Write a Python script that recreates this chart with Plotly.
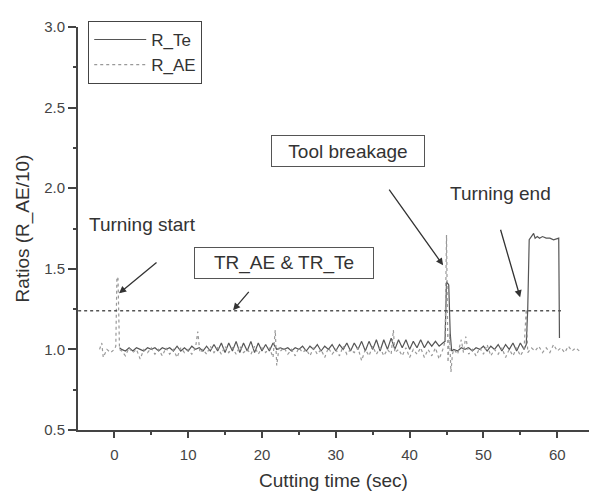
import plotly.graph_objects as go

# ---- data ----
te_t = [0.7, 1.0, 1.5, 2.0, 2.5, 3.0, 3.5, 4.0, 4.5, 5.0, 5.5, 6.0, 6.5, 7.0, 7.5, 8.0, 8.5, 9.0, 9.5,
        10.0, 10.5, 11.0, 11.5, 12.0, 12.5, 13.0, 13.5, 14.0, 14.5, 15.0, 15.5, 16.0, 16.5, 17.0, 17.5,
        18.0, 18.5, 19.0, 19.5, 20.0, 20.5, 21.0, 21.5, 22.0, 22.5, 23.0, 23.5, 24.0, 24.5, 25.0, 25.5,
        26.0, 26.5, 27.0, 27.5, 28.0, 28.5, 29.0, 29.5, 30.0, 30.5, 31.0, 31.5, 32.0, 32.5, 33.0, 33.5,
        34.0, 34.5, 35.0, 35.5, 36.0, 36.5, 37.0, 37.5, 38.0, 38.5, 39.0, 39.5, 40.0, 40.5, 41.0, 41.5,
        42.0, 42.5, 43.0, 43.5, 44.0, 44.5, 44.8, 45.0, 45.3, 45.5, 45.7, 46.0, 46.5, 47.0, 47.5, 48.0,
        48.5, 49.0, 49.5, 50.0, 50.5, 51.0, 51.5, 52.0, 52.5, 53.0, 53.5, 54.0, 54.5, 55.0, 55.5, 55.8,
        56.0, 56.2, 56.5, 56.8, 57.0, 57.3, 57.6, 58.0, 58.5, 59.0, 59.5, 60.0, 60.2, 60.3]
te_v = [1.01, 1.00, 0.99, 1.01, 0.99, 1.01, 1.00, 0.99, 1.01, 1.00, 1.01, 0.99, 1.01, 1.00, 1.01, 0.99, 1.02, 0.99, 1.01,
        0.99, 1.02, 1.00, 1.01, 0.99, 1.02, 0.99, 1.03, 0.99, 1.04, 0.98, 1.04, 0.99, 1.05, 0.98, 1.04,
        0.99, 1.05, 0.98, 1.04, 0.99, 1.03, 0.99, 1.04, 1.00, 1.01, 1.00, 1.01, 0.99, 1.01, 1.00, 1.02,
        0.99, 1.02, 1.00, 1.03, 0.99, 1.02, 1.00, 1.03, 0.99, 1.03, 1.00, 1.04, 0.99, 1.04, 1.00, 1.05,
        0.99, 1.05, 1.00, 1.06, 0.99, 1.06, 1.00, 1.07, 1.00, 1.06, 1.01, 1.06, 1.00, 1.05, 1.01, 1.06,
        1.01, 1.05, 1.02, 1.05, 1.02, 1.04, 1.05, 1.42, 1.40, 1.10, 0.99, 1.00, 0.99, 1.01, 1.00, 1.01,
        0.99, 1.01, 1.00, 1.02, 0.99, 1.02, 1.00, 1.03, 0.99, 1.03, 1.00, 1.04, 0.99, 1.04, 1.00, 1.03,
        1.25, 1.68, 1.70, 1.72, 1.69, 1.70, 1.69, 1.70, 1.69, 1.69, 1.68, 1.69, 1.69, 1.07]

ae_t = [-2.0, -1.7, -1.5, -1.0, -0.5, 0.0, 0.2, 0.35, 0.5, 0.7, 1.0, 1.5, 2.0, 2.5, 3.0, 3.5, 4.0, 4.5,
        5.0, 5.5, 6.0, 6.5, 7.0, 7.5, 8.0, 8.5, 9.0, 9.5, 10.0, 10.5, 11.0, 11.3, 11.6, 12.0, 12.5, 13.0,
        13.5, 14.0, 14.5, 15.0, 15.5, 16.0, 16.5, 17.0, 17.5, 18.0, 18.5, 19.0, 19.5, 20.0, 20.5, 21.0,
        21.5, 21.8, 22.0, 22.3, 22.5, 23.0, 23.5, 24.0, 24.5, 25.0, 25.5, 26.0, 26.5, 27.0, 27.5, 28.0,
        28.5, 29.0, 29.5, 30.0, 30.5, 31.0, 31.5, 32.0, 32.5, 33.0, 33.5, 34.0, 34.5, 35.0, 35.5, 36.0,
        36.5, 37.0, 37.5, 37.8, 38.0, 38.5, 39.0, 39.5, 40.0, 40.5, 41.0, 41.5, 42.0, 42.5, 43.0, 43.5,
        44.0, 44.5, 44.8, 45.0, 45.2, 45.4, 45.6, 45.8, 46.0, 46.5, 47.0, 47.3, 47.6, 48.0, 48.5, 49.0,
        49.5, 50.0, 50.5, 51.0, 51.5, 52.0, 52.5, 53.0, 53.5, 54.0, 54.5, 55.0, 55.5, 55.8, 56.0, 56.5,
        57.0, 57.5, 58.0, 58.5, 59.0, 59.5, 60.0, 60.5, 61.0, 61.5, 62.0, 62.5, 63.0]
ae_v = [1.00, 1.04, 0.95, 1.00, 0.98, 1.00, 1.02, 1.45, 1.44, 1.00, 0.99, 0.96, 1.01, 0.98, 1.00, 0.94, 1.00, 0.98,
        1.01, 0.97, 1.00, 0.96, 1.01, 0.97, 1.00, 0.95, 1.01, 0.98, 1.00, 0.97, 1.01, 1.11, 0.98, 1.00, 0.97, 1.02,
        0.98, 1.01, 0.97, 1.02, 0.98, 1.01, 0.97, 1.02, 0.98, 1.00, 0.97, 1.02, 0.97, 1.01, 0.98, 1.01,
        0.95, 1.12, 0.90, 1.01, 0.99, 1.01, 0.97, 1.00, 0.96, 1.01, 0.98, 1.00, 0.96, 1.01, 0.97, 1.00,
        0.95, 1.01, 0.97, 1.00, 0.96, 1.02, 0.97, 1.00, 0.98, 1.01, 0.93, 1.00, 0.96, 1.02, 0.97, 1.01,
        0.96, 1.00, 0.97, 1.12, 0.98, 1.00, 0.96, 1.01, 0.95, 1.00, 0.97, 1.01, 0.95, 1.00, 0.96, 1.01,
        0.94, 1.00, 1.05, 1.71, 0.92, 1.10, 0.86, 0.97, 1.00, 0.97, 1.06, 0.98, 1.08, 0.97, 1.00, 0.96,
        1.01, 0.97, 1.03, 0.96, 1.00, 0.97, 1.01, 0.95, 1.00, 0.96, 1.01, 0.96, 1.00, 1.25, 0.98, 1.01,
        0.99, 1.02, 0.98, 1.01, 0.98, 1.03, 0.99, 1.01, 0.98, 1.02, 0.99, 1.01, 0.99]

thr_t = [-4.9, 60.5]
thr_v = [1.24, 1.24]

x_ticks = [0, 10, 20, 30, 40, 50, 60]
y_ticks = [0.5, 1.0, 1.5, 2.0, 2.5, 3.0]
y_ticklabels = ["0.5", "1.0", "1.5", "2.0", "2.5", "3.0"]

FONT = "Arial, Liberation Sans, sans-serif"
TXT = "#333333"
AX = "#444444"

fig = go.Figure()
fig.add_trace(go.Scatter(x=te_t, y=te_v, mode="lines", name="R_Te",
                         line=dict(color="#555555", width=1.2)))
fig.add_trace(go.Scatter(x=ae_t, y=ae_v, mode="lines", name="R_AE",
                         line=dict(color="#999999", width=1.2, dash="dot")))
fig.add_trace(go.Scatter(x=thr_t, y=thr_v, mode="lines", showlegend=False,
                         line=dict(color="#555555", width=1.5, dash="dot")))

def xd(px):
    return (px - 114.3) / 7.38

def yd(py):
    return 1.0 + (349 - py) / 161.0

annots = []
# arrows
for (tx, ty, hx, hy) in [(158, 261, 119, 293), (250, 290, 233, 310),
                         (388, 188, 443, 265), (500, 228, 520, 297)]:
    annots.append(dict(x=xd(hx), y=yd(hy), ax=xd(tx), ay=yd(ty), xref="x", yref="y",
                       axref="x", ayref="y", text="", showarrow=True, arrowhead=2,
                       arrowsize=1.1, arrowwidth=1.3, arrowcolor="#333333"))
# texts
annots.append(dict(x=xd(87), y=yd(224), xref="x", yref="y", text="Turning start",
                   showarrow=False, xanchor="left", font=dict(size=19, color=TXT, family=FONT)))
annots.append(dict(x=xd(500), y=yd(193), xref="x", yref="y", text="Turning end",
                   showarrow=False, font=dict(size=19, color=TXT, family=FONT)))
annots.append(dict(x=xd(284), y=yd(263), xref="x", yref="y", text="TR_AE &amp; TR_Te",
                   showarrow=False, width=176, height=28, bordercolor="#555555", borderwidth=1,
                   bgcolor="white", font=dict(size=19, color=TXT, family=FONT)))
annots.append(dict(x=xd(348), y=yd(151), xref="x", yref="y", text="Tool breakage",
                   showarrow=False, width=150, height=28, bordercolor="#555555", borderwidth=1,
                   bgcolor="white", font=dict(size=19, color=TXT, family=FONT)))

fig.update_layout(
    width=589, height=497,
    margin=dict(l=78, r=0, t=27, b=67),
    paper_bgcolor="white", plot_bgcolor="white",
    font=dict(family=FONT, color=TXT),
    showlegend=True,
    legend=dict(x=0.02, y=1.015, xanchor="left", yanchor="top",
                bordercolor="#444444", borderwidth=1, bgcolor="white",
                font=dict(size=17, color=TXT, family=FONT), tracegroupgap=0,
                itemwidth=52),
    annotations=annots,
)
fig.update_xaxes(range=[-4.92, 64.3], showline=True, linecolor=AX, linewidth=2,
                 showgrid=False, zeroline=False, ticks="outside", ticklen=6, tickwidth=1.5,
                 tickcolor=AX, tickvals=x_ticks, ticklabelstandoff=4,
                 minor=dict(tickvals=[-5, 5, 15, 25, 35, 45, 55], ticks="outside", ticklen=3,
                            tickcolor=AX, tickwidth=1.5),
                 tickfont=dict(size=15, color="#444444", family=FONT),
                 title=dict(text="Cutting time (sec)", font=dict(size=19, color=TXT, family=FONT),
                            standoff=12))
fig.update_yaxes(range=[0.5, 3.0], showline=True, linecolor=AX, linewidth=2,
                 showgrid=False, zeroline=False, ticks="outside", ticklen=8, tickwidth=1.5,
                 tickcolor=AX, tickvals=y_ticks, ticktext=y_ticklabels,
                 minor=dict(tickvals=[0.75, 1.25, 1.75, 2.25, 2.75], ticks="outside", ticklen=3,
                            tickcolor=AX, tickwidth=1.5),
                 tickfont=dict(size=15, color="#444444", family=FONT),
                 title=dict(text="Ratios (R_AE/10)", font=dict(size=19, color=TXT, family=FONT),
                            standoff=9))

fig.write_html("out.html")
